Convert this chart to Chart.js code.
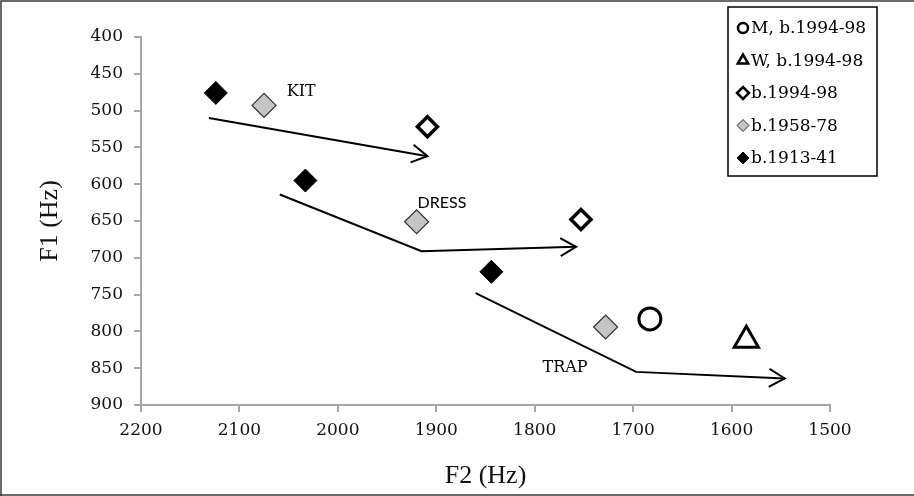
<!DOCTYPE html>
<html>
<head>
<meta charset="utf-8">
<script src="https://cdn.jsdelivr.net/npm/chart.js@4"></script>
<style>
  html, body { margin: 0; padding: 0; background: #fff; }
  #wrap { width: 914px; height: 496px; position: relative; }
</style>
</head>
<body>
<div id="wrap"><canvas id="vowelChart" width="914" height="496"></canvas></div>
<script>
// formant means (Hz)
const menYoung = [{ x: 1683, y: 783 }];
const womenYoung = [{ x: 1585, y: 812 }];
const young = [{ x: 1909, y: 522 }, { x: 1753, y: 648 }];
const middle = [{ x: 2075, y: 493 }, { x: 1920, y: 651 }, { x: 1728, y: 794 }];
const old = [{ x: 2124, y: 476 }, { x: 2033, y: 595 }, { x: 1844, y: 719 }];

// change paths
const kitPath = [{ x: 2131, y: 510 }, { x: 1909, y: 562 }];
const dressPath = [{ x: 2059, y: 614 }, { x: 1915, y: 691 }, { x: 1758, y: 685 }];
const trapPath = [{ x: 1860, y: 748 }, { x: 1697, y: 855 }, { x: 1546, y: 864 }];

const vowelNames = ['KIT', 'DRESS', 'TRAP'];
const vowelF2 = [2052, 1919, 1792];
const vowelF1 = [474, 625, 850];

const xMin = 1500, xMax = 2200, xStep = 100;
const yMin = 400, yMax = 900, yStep = 50;

const serif = 'DejaVu Serif';

function pathSet(data) {
    return {
        label: '', data: data, showLine: true, borderColor: '#000', borderWidth: 2,
        pointRadius: 0, isArrow: true, fill: false
    };
}

// draws the boxed legend and the arrowheads / vowel labels
const extras = {
    id: 'extras',
    beforeDraw(chart) {
        const ctx = chart.ctx;
        ctx.save();
        ctx.strokeStyle = '#3a3a3a';
        ctx.lineWidth = 1.5;
        ctx.beginPath();
        ctx.moveTo(1, 496);
        ctx.lineTo(1, 1);
        ctx.lineTo(914, 1);
        ctx.moveTo(0, 495);
        ctx.lineTo(914, 495);
        ctx.stroke();
        ctx.restore();
    },
    afterDatasetsDraw(chart) {
        const ctx = chart.ctx;
        const xs = chart.scales.x, ys = chart.scales.y;
        ctx.save();
        // arrowheads
        chart.data.datasets.forEach(ds => {
            if (!ds.isArrow) return;
            const n = ds.data.length;
            const a = ds.data[n - 2], b = ds.data[n - 1];
            const x1 = xs.getPixelForValue(a.x), y1 = ys.getPixelForValue(a.y);
            const x2 = xs.getPixelForValue(b.x), y2 = ys.getPixelForValue(b.y);
            const ang = Math.atan2(y2 - y1, x2 - x1);
            const len = 18, spread = Math.PI / 6;
            ctx.strokeStyle = '#000';
            ctx.lineWidth = 2;
            ctx.beginPath();
            ctx.moveTo(x2 - len * Math.cos(ang - spread), y2 - len * Math.sin(ang - spread));
            ctx.lineTo(x2, y2);
            ctx.lineTo(x2 - len * Math.cos(ang + spread), y2 - len * Math.sin(ang + spread));
            ctx.stroke();
        });
        // vowel labels
        ctx.fillStyle = '#000';
        ctx.textBaseline = 'middle';
        ctx.textAlign = 'left';
        vowelNames.forEach((name, i) => {
            ctx.font = name === 'DRESS' ? '16px Lato' : '16px "' + serif + '"';
            ctx.fillText(name, xs.getPixelForValue(vowelF2[i]), ys.getPixelForValue(vowelF1[i]));
        });

        // legend box
        const bx = 728, by = 7, bw = 149, bh = 169;
        ctx.fillStyle = '#fff';
        ctx.fillRect(bx, by, bw, bh);
        ctx.strokeStyle = '#000';
        ctx.lineWidth = 1.5;
        ctx.strokeRect(bx, by, bw, bh);
        const items = chart.data.datasets.filter(ds => !ds.isArrow);
        items.forEach((ds, i) => {
            const cy = by + 21 + i * 32.5;
            ctx.fillStyle = ds.backgroundColor;
            ctx.strokeStyle = ds.borderColor;
            ctx.lineWidth = ds.legendBorder;
            Chart.helpers.drawPoint(ctx, {
                pointStyle: ds.pointStyle, radius: ds.legendRadius, rotation: 0,
                borderWidth: ds.legendBorder
            }, 743, cy);
            ctx.fillStyle = '#000';
            ctx.font = '17px "' + serif + '"';
            ctx.textAlign = 'left';
            ctx.textBaseline = 'middle';
            ctx.fillText(ds.label, 751, cy + 1);
        });
        ctx.restore();
    }
};

const ctx = document.getElementById('vowelChart').getContext('2d');
const vowelChart = new Chart(ctx, {
    type: 'scatter',
    data: {
        datasets: [
            {
                label: 'M, b.1994-98', data: menYoung, pointStyle: 'circle', pointRadius: 11,
                backgroundColor: '#fff', borderColor: '#000', borderWidth: 3,
                legendRadius: 5, legendBorder: 2.5
            },
            {
                label: 'W, b.1994-98', data: womenYoung, pointStyle: 'triangle', pointRadius: 14,
                backgroundColor: '#fff', borderColor: '#000', borderWidth: 3,
                legendRadius: 6, legendBorder: 2.5
            },
            {
                label: 'b.1994-98', data: young, pointStyle: 'rectRot', pointRadius: 10,
                backgroundColor: '#fff', borderColor: '#000', borderWidth: 3.5,
                legendRadius: 6, legendBorder: 2.5
            },
            {
                label: 'b.1958-78', data: middle, pointStyle: 'rectRot', pointRadius: 12,
                backgroundColor: '#c4c4c4', borderColor: '#333', borderWidth: 1.2,
                legendRadius: 6, legendBorder: 1
            },
            {
                label: 'b.1913-41', data: old, pointStyle: 'rectRot', pointRadius: 11.5,
                backgroundColor: '#000', borderColor: '#000', borderWidth: 1,
                legendRadius: 6, legendBorder: 1
            },
            pathSet(kitPath),
            pathSet(dressPath),
            pathSet(trapPath)
        ]
    },
    options: {
        responsive: false,
        animation: false,
        layout: { padding: { left: 0, right: 84, top: 37, bottom: 0 } },
        plugins: {
            legend: { display: false },
            tooltip: { enabled: false }
        },
        scales: {
            x: {
                type: 'linear', reverse: true, min: xMin, max: xMax,
                afterFit: s => { s.height = 91; },
                ticks: {
                    stepSize: xStep, color: '#111', padding: 8, font: { family: serif, size: 17 },
                    callback: v => String(v)
                },
                grid: { drawOnChartArea: false, drawTicks: true, tickLength: 7, color: '#a6a6a6', lineWidth: 2 },
                border: { color: '#a6a6a6', width: 2 },
                title: {
                    display: true, text: 'F2 (Hz)', color: '#111',
                    font: { family: 'Liberation Serif', size: 26 }, padding: { top: 0, bottom: 4 }
                }
            },
            y: {
                type: 'linear', reverse: true, min: yMin, max: yMax,
                afterFit: s => { s.width = 141; },
                ticks: {
                    stepSize: yStep, color: '#111', padding: 11, font: { family: serif, size: 17 },
                    callback: v => String(v)
                },
                grid: { drawOnChartArea: false, drawTicks: true, tickLength: 7, color: '#a6a6a6', lineWidth: 2 },
                border: { color: '#a6a6a6', width: 2 },
                title: {
                    display: true, text: 'F1 (Hz)', color: '#111',
                    font: { family: 'Liberation Serif', size: 26 }, padding: { top: 35, bottom: 0 }
                }
            }
        }
    },
    plugins: [extras]
});
</script>
</body>
</html>
